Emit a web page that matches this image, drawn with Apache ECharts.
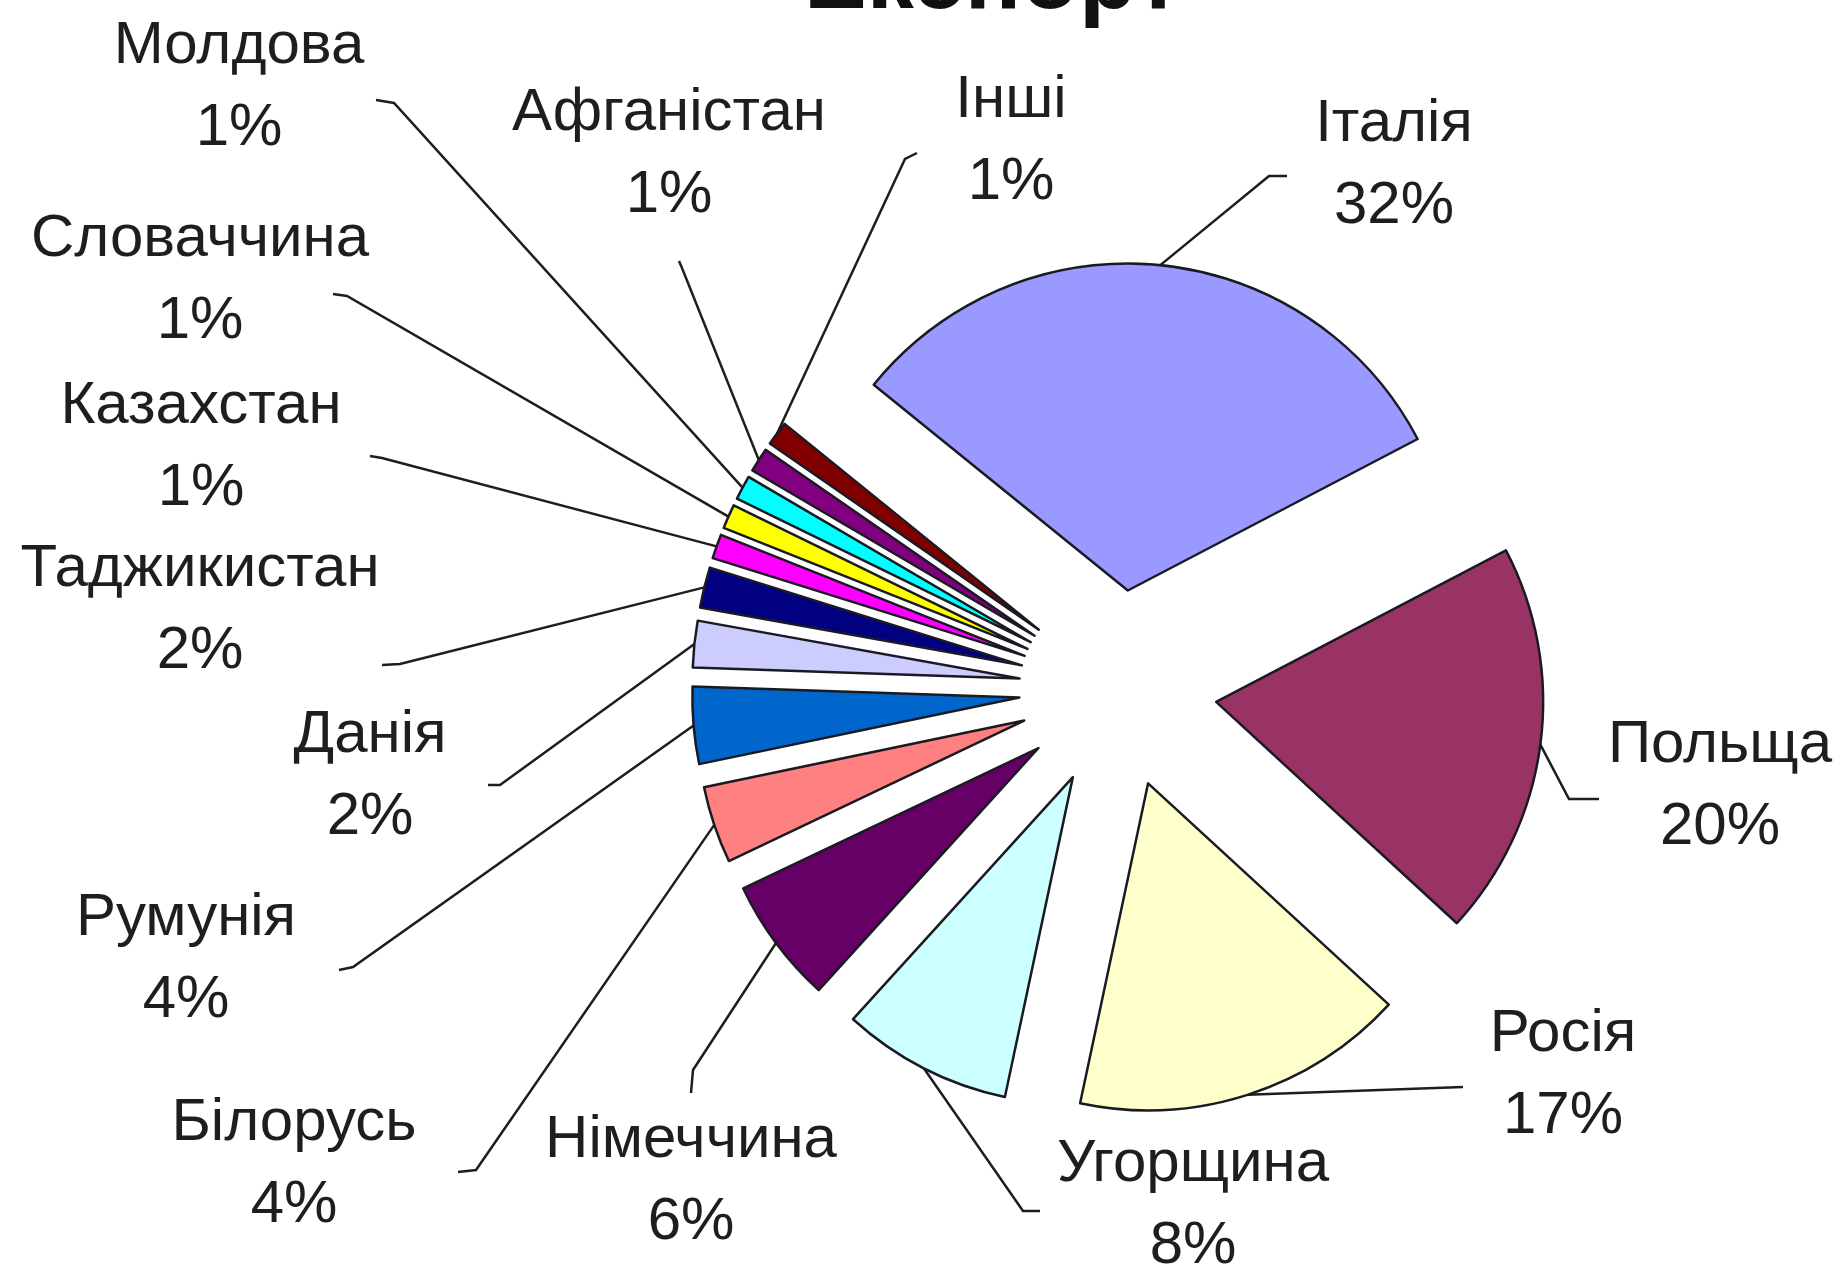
<!DOCTYPE html>
<html>
<head>
<meta charset="utf-8">
<script src="https://cdn.jsdelivr.net/npm/echarts@6/dist/echarts.min.js"></script>
<style>
html,body{margin:0;padding:0;background:#fff;}
#chart{width:1843px;height:1268px;}
</style>
</head>
<body>
<div id="chart"></div>
<script>
// ---- data ----
const categories = ['Італія','Польща','Росія','Угорщина','Німеччина','Білорусь','Румунія','Данія','Таджикистан','Казахстан','Словаччина','Молдова','Афганістан','Інші'];
const values = [31.5, 19.5, 16.5, 8.4, 6.2, 3.8, 3.8, 2.3, 2.0, 1.2, 1.2, 1.2, 1.2, 1.2];
const colors = ['#9999FF','#993366','#FFFFCC','#CCFFFF','#660066','#FF8080','#0066CC','#CCCCFF','#000080','#FF00FF','#FFFF00','#00FFFF','#800080','#800000'];

// ---- label layout (page px) ----
const labelCenter = [
  [1394,165],[1720,786],[1563,1075],[1193,1205],[691,1181],[294,1164],[186,959],
  [370,776],[200,610],[201,447],[200,280],[239,87],[669,154],[1011,141]
];
const lineElbow = [
  [1269,176],[1569,799],[1463,1087],[1023,1211],[693,1070],[476,1170],[353,967],
  [500,785],[400,664],[382,458],[347,296],[394,103],[682,268],[905,159]
];
const lineEnd = [
  [1287,176],[1599,799],[1463,1087],[1040,1211],[691,1093],[458,1172],[339,970],
  [488,785],[382,665],[370,456],[333,294],[376,100],[679,261],[917,153]
];

const PIE_CENTER = [1118, 689];
const PIE_R = 327;
const EXPLODE = 99;
const START = 141;

const chart = echarts.init(document.getElementById('chart'), null, {renderer:'canvas'});
chart.setOption({
  animation:false,
  backgroundColor:'#ffffff',
  title:{
    text:'Експорт',
    left:799, top:-70,
    textStyle:{fontFamily:'Liberation Sans', fontWeight:'bold', fontSize:94, color:'#111'}
  },
  series:[{
    type:'pie',
    center:PIE_CENTER,
    radius:PIE_R,
    startAngle:START,
    clockwise:true,
    selectedMode:'multiple',
    selectedOffset:EXPLODE,
    avoidLabelOverlap:false,
    emphasis:{disabled:true},
    itemStyle:{borderColor:'#1a1a22', borderWidth:2.5},
    label:{show:false},
    labelLine:{show:false},
    data:categories.map((c,i)=>({name:c, value:values[i], selected:true, itemStyle:{color:colors[i]}}))
  },{
    // label carrier: same slices, radius reaching the exploded arcs
    type:'pie',
    center:PIE_CENTER,
    radius:PIE_R + EXPLODE,
    startAngle:START,
    clockwise:true,
    silent:true,
    selectedMode:false,
    avoidLabelOverlap:false,
    percentPrecision:0,
    emphasis:{disabled:true},
    itemStyle:{color:'rgba(0,0,0,0)', borderWidth:0},
    label:{
      show:true, position:'outside',
      formatter:'{b}\n{d}%',
      fontFamily:'Liberation Sans', fontSize:60, lineHeight:82, color:'#1e1e1e',
      align:'center'
    },
    labelLine:{show:true, length:20, length2:20, lineStyle:{color:'#1e1e1e', width:2.5}},
    labelLayout:function(p){
      const i = p.dataIndex;
      const pts = p.labelLinePoints ? [p.labelLinePoints[0], lineElbow[i], lineEnd[i]] : undefined;
      return {x:labelCenter[i][0], y:labelCenter[i][1], align:'center', verticalAlign:'middle', labelLinePoints:pts};
    },
    data:categories.map((c,i)=>({name:c, value:values[i]}))
  }]
});
</script>
</body>
</html>
